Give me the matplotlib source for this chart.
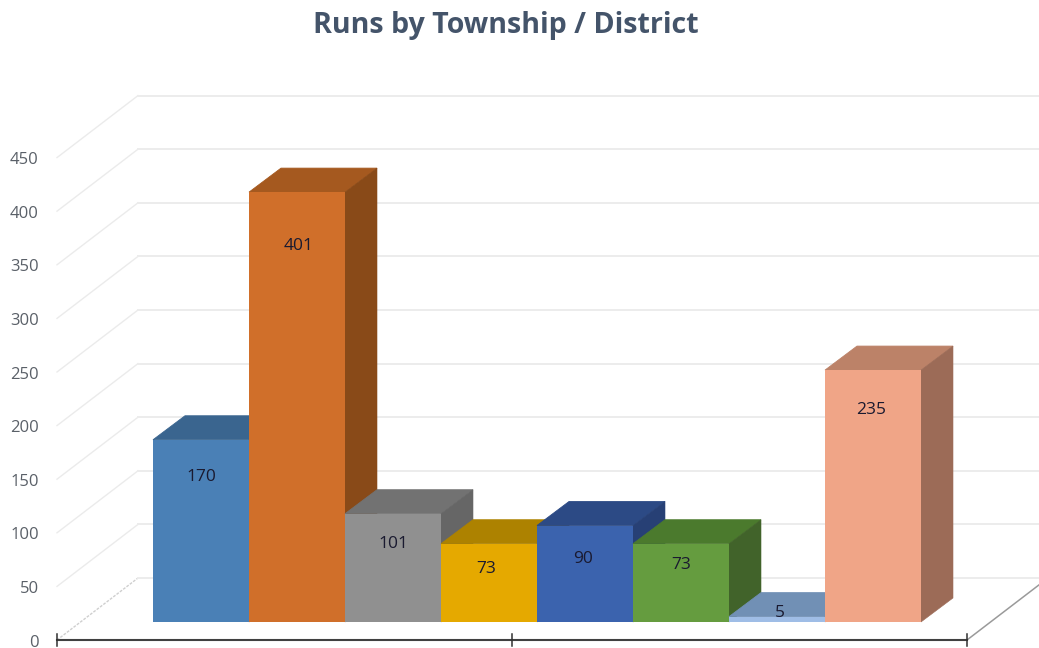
import matplotlib
matplotlib.use('Agg')
import matplotlib.pyplot as plt
import numpy as np

plt.rcParams['font.family'] = ['Open Sans', 'DejaVu Sans']

values = [170, 401, 101, 73, 90, 73, 5, 235]
front_colors = ['#4a80b6', '#d06f2a', '#909090', '#e5a900', '#3b63ae', '#659c3f', '#9fbde6', '#f0a587']
top_colors = ['#3a658f', '#a5591f', '#727272', '#ad8200', '#2c4a85', '#4b7a2d', '#7190b5', '#bc8268']
side_colors = ['#32587e', '#894a18', '#666666', '#967000', '#274075', '#41632a', '#647fa0', '#9c6b57']
grid_values = np.arange(0, 500, 50)
# value label placement relative to the bar: drop below the top, sideways nudge
label_drop = [35, 50, 28, 24, 31, 20, -3, 37]
label_nudge = [0, 0.02, 0, -0.03, -0.02, 0, 0.03, -0.02]

# one x unit is a bar slot (96 px wide), one y unit is 1.072 px
px_x = 96
px_y = 1.072
x0 = 153
y0 = 622
depth_x = 32 / px_x
depth_y = 24 / px_y
# floor corners relative to the first bar's front edge
floor_front_x = (57 - x0) / px_x
floor_front_y = -18 / px_y
wall_dx = 81 / px_x
wall_dy = 62 / px_y
axis_end = (967 - x0) / px_x

fig = plt.figure(figsize=(10.39, 6.48), dpi=100)
ax = fig.add_axes([0, 0, 1, 1])
ax.set_xlim(-x0 / px_x, (1039 - x0) / px_x)
ax.set_ylim((y0 - 648) / px_y, y0 / px_y)
ax.axis('off')

# gridlines run from the left edge, back along the wall
for g in grid_values:
    yf = g + floor_front_y
    slant_color = '#cfcfcf' if g == 0 else '#ebebeb'
    slant_style = (0, (2, 1)) if g == 0 else '-'
    ax.plot([floor_front_x, floor_front_x + wall_dx], [yf, yf + wall_dy],
            color=slant_color, lw=1.0, ls=slant_style, zorder=1)
    ax.plot([floor_front_x + wall_dx, ax.get_xlim()[1]], [yf + wall_dy, yf + wall_dy],
            color='#ececec', lw=1.4, zorder=1)
    ax.text(floor_front_x - 0.19, yf - 2.5, str(g), ha='right', va='center',
            fontsize=12, color='#5a6068')

# right edge of the floor
ax.plot([axis_end, axis_end + wall_dx], [floor_front_y, floor_front_y + wall_dy],
        color='#9a9a9a', lw=1.1, zorder=1)

# category axis with its three ticks
ax.plot([floor_front_x, axis_end], [floor_front_y, floor_front_y], color='#404040', lw=1.5, zorder=2)
for t in [floor_front_x, (floor_front_x + axis_end) / 2, axis_end]:
    ax.plot([t, t], [floor_front_y - 6, floor_front_y + 6], color='#303030', lw=1.1, zorder=2)

# bars are painted left to right so each one covers the side of the last
for i, v in enumerate(values):
    z = 3 + i
    ax.fill([i, i + depth_x, i + 1 + depth_x, i + 1],
            [v, v + depth_y, v + depth_y, v], facecolor=top_colors[i],
            edgecolor=top_colors[i], lw=0.6, zorder=z)
    ax.fill([i + 1, i + 1 + depth_x, i + 1 + depth_x, i + 1],
            [0, depth_y, v + depth_y, v], facecolor=side_colors[i],
            edgecolor=side_colors[i], lw=0.4, zorder=z)
    ax.bar(i, v, width=1, align='edge', color=front_colors[i], lw=0, zorder=z + 0.5)
    ax.text(i + 0.5 + label_nudge[i], v - label_drop[i], str(v), ha='center', va='center',
            fontsize=12.5, color='#1a1a30', zorder=20)

fig.text(506 / 1039, 1 - 25 / 648, 'Runs by Township / District', ha='center', va='center',
         fontsize=20.6, fontweight='bold', color='#44546a')

fig.savefig('out.png', dpi=100)
